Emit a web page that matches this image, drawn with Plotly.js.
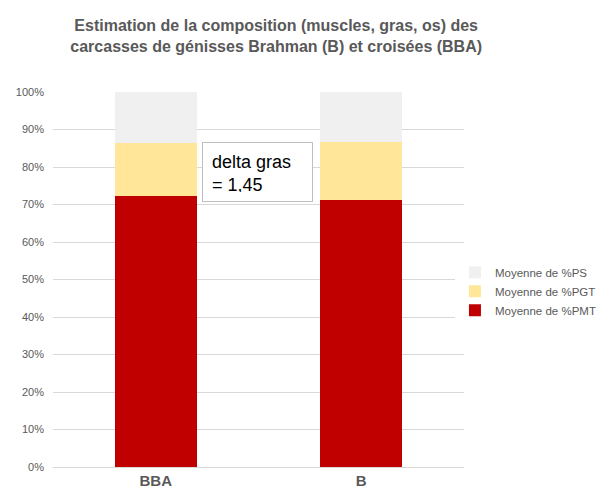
<!DOCTYPE html>
<html>
<head>
<meta charset="utf-8">
<script src="https://cdn.plot.ly/plotly-3.0.1.min.js"></script>
<style>body{margin:0;padding:0;background:#fff;}#chart{width:607px;height:498px;}</style>
</head>
<body>
<div id="chart"></div>
<script>
const categories = ["BBA", "B"];
const pmt = [72.3, 71.2];
const pgt = [14.1, 15.6];
const ps = [13.6, 13.2];
const yTickVals = [0,10,20,30,40,50,60,70,80,90,100];
const yTickText = ["0%","10%","20%","30%","40%","50%","60%","70%","80%","90%","100%"];

const traces = [
  {type:'bar', name:'Moyenne de %PMT', x:categories, y:pmt, marker:{color:'#c00000'}},
  {type:'bar', name:'Moyenne de %PGT', x:categories, y:pgt, marker:{color:'#ffe699'}},
  {type:'bar', name:'Moyenne de %PS', x:categories, y:ps, marker:{color:'#f0f0f0'}}
];

const layout = {
  width:607, height:498,
  margin:{l:53, r:143, t:92, b:31, autoexpand:false},
  paper_bgcolor:'#fff', plot_bgcolor:'#fff',
  barmode:'stack', bargap:0.6,
  font:{family:'Arial, Liberation Sans, sans-serif', color:'#595959'},
  title:{text:'<b>Estimation de la composition (muscles, gras, os) des<br>carcasses de génisses Brahman (B) et croisées (BBA)</b>',
    font:{size:16, color:'#595959'}, x:0.455, xanchor:'center', y:0.937, yanchor:'middle'},
  xaxis:{tickfont:{size:15, color:'#595959', weight:'bold'}, showline:true, linecolor:'#d9d9d9', ticks:''},
  yaxis:{range:[0,100], tickvals:yTickVals, ticktext:yTickText, tickfont:{size:11, color:'#595959'},
    gridcolor:'#d9d9d9', zeroline:false, showline:false, ticks:'', ticklen:0, ticklabelstandoff:8},
  legend:{x:0.978, xanchor:'left', y:0.469, yanchor:'middle', traceorder:'reversed',
    font:{size:11.5, color:'#595959'}, itemwidth:30, tracegroupgap:0},
  annotations:[{
    xref:'paper', yref:'paper', x:0.3625, y:0.867, xanchor:'left', yanchor:'top',
    text:'delta gras<br>= 1,45', showarrow:false, align:'left', valign:'top',
    font:{size:18, color:'#000'}, bordercolor:'#bfbfbf', borderwidth:1, borderpad:9,
    bgcolor:'#fff', width:91, height:40
  }]
};

Plotly.newPlot('chart', traces, layout, {displayModeBar:false});
</script>
</body>
</html>
